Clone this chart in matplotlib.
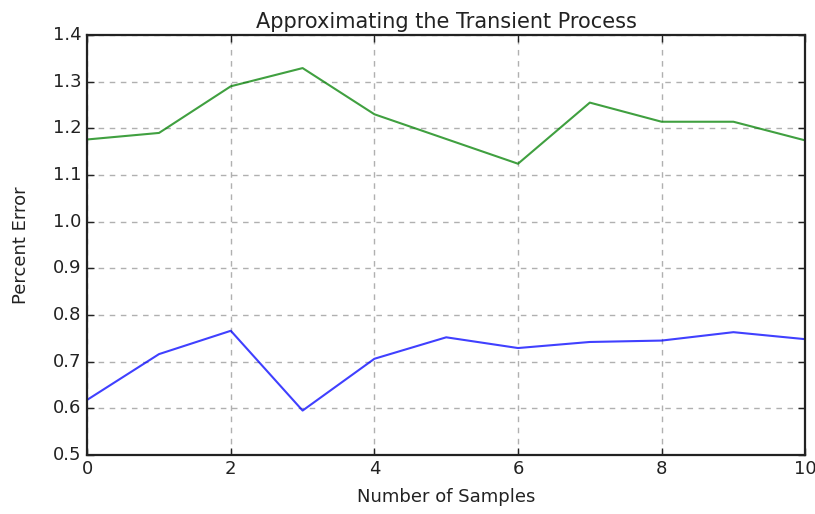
import matplotlib
matplotlib.use('Agg')
import matplotlib.pyplot as plt

plt.style.use('classic')

samples = [0, 1, 2, 3, 4, 5, 6, 7, 8, 9, 10]
blue_err = [0.618, 0.716, 0.766, 0.595, 0.706, 0.752, 0.729, 0.742, 0.745, 0.763, 0.748]
green_err = [1.176, 1.190, 1.290, 1.329, 1.230, 1.177, 1.124, 1.255, 1.214, 1.214, 1.174]

fig = plt.figure(figsize=(8.15, 5.14), dpi=100, facecolor='white')
ax = fig.add_axes([0.107, 0.115, 0.881, 0.817])

ax.plot(samples, blue_err, color='b', lw=1.5, alpha=0.75)
ax.plot(samples, green_err, color='g', lw=1.5, alpha=0.75)

ax.set_xlim(0, 10)
ax.set_ylim(0.5, 1.4)
ax.set_xticks([0, 2, 4, 6, 8, 10])
ax.set_yticks([0.5, 0.6, 0.7, 0.8, 0.9, 1.0, 1.1, 1.2, 1.3, 1.4])
ax.grid(True, color='#b0b0b0', linestyle='--', lw=1.0, dashes=(4, 4))
ax.set_axisbelow(True)
for sp in ax.spines.values():
    sp.set_linewidth(1.6)
    sp.set_color('#222222')
ax.tick_params(labelsize=13, colors='#222222', width=1.0, length=5)

ax.set_title('Approximating the Transient Process', fontsize=15, color='#222222')
ax.set_xlabel('Number of Samples', fontsize=13, color='#222222', labelpad=7)
ax.set_ylabel('Percent Error', fontsize=13, color='#222222')
ax.yaxis.set_label_coords(-0.08, 0.5)

fig.savefig('out.png', dpi=100, facecolor='white')
